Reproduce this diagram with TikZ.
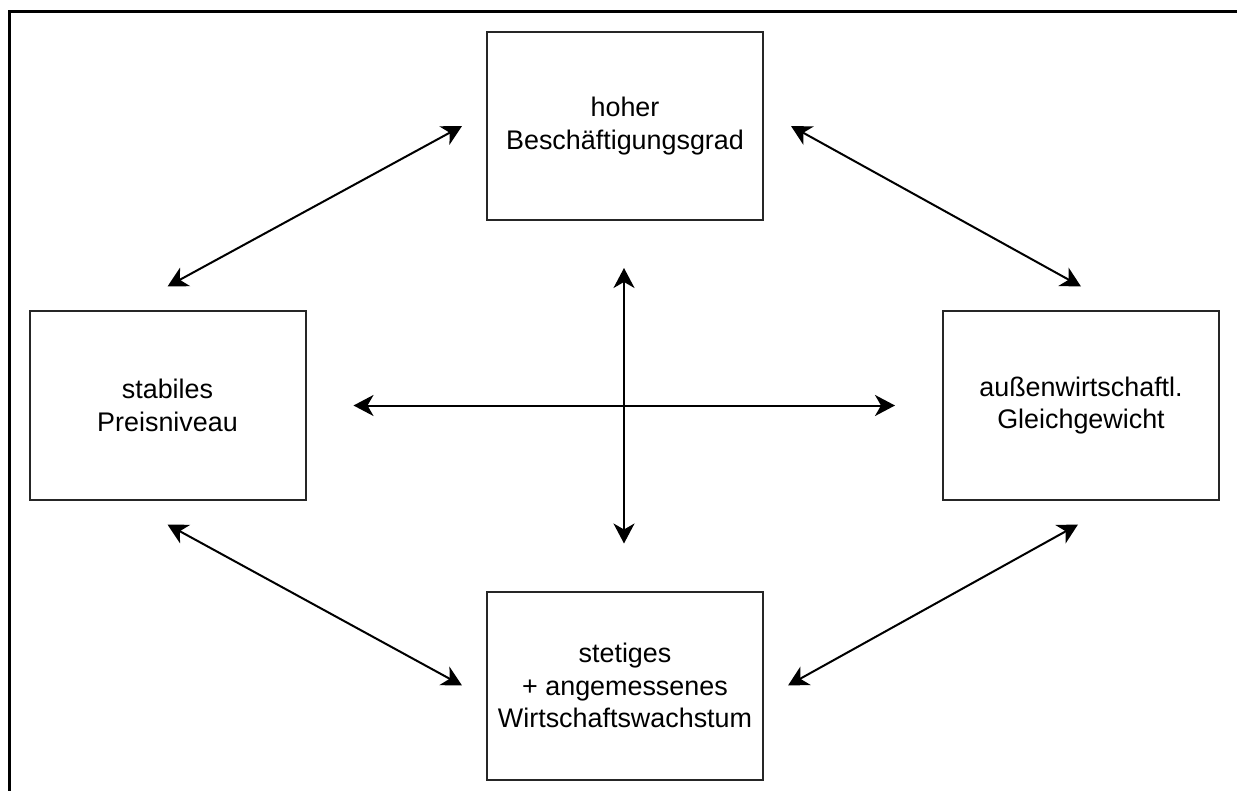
\documentclass[tikz,border=0pt]{standalone}
\usepackage{fontspec}
\setmainfont{Liberation Sans}
\usetikzlibrary{arrows.meta,calc}
\begin{document}
\begin{tikzpicture}[x=0.5pt,y=-0.5pt,
  goalbox/.style={draw=black!85, line width=1pt, rectangle, minimum width=138pt, minimum height=94pt,
    align=center, font=\fontsize{13.45}{16.2}\selectfont, inner sep=0pt},
  link/.style={line width=1pt, {Stealth[length=10pt,width=10.5pt,inset=3pt]}-{Stealth[length=10pt,width=10.5pt,inset=3pt]}},
  cross/.style={link, shorten <=23.5pt, shorten >=23.5pt}]
\useasboundingbox (0,0) rectangle (1237,791);
% frame (cropped: only top and left sides visible)
\draw[line width=1.5pt] (9.5,791) -- (9.5,11.5) -- (1237,11.5);
% boxes
\node[goalbox] (top) at (625,126) {hoher\\Beschäftigungsgrad};
\node[goalbox] (left) at (167.5,405.5) {stabiles\\Preisniveau};
\node[goalbox] (right) at (1081,405.5) {außenwirtschaftl.\\Gleichgewicht};
\node[goalbox] (bottom) at (625,685.5) {stetiges\\+ angemessenes\\Wirtschaftswachstum};
% free ends of diagonal arrows
\coordinate (tl1) at ($(top.west)+(-24,0)$);
\coordinate (tl2) at ($(left.north)+(0,-24)$);
\coordinate (tr1) at ($(top.east)+(27,0)$);
\coordinate (tr2) at ($(right.north)+(0,-24)$);
\coordinate (bl1) at ($(left.south)+(0,24)$);
\coordinate (bl2) at ($(bottom.west)+(-24,0)$);
\coordinate (br1) at ($(right.south)+(-3,24)$);
\coordinate (br2) at ($(bottom.east)+(24,0)$);
\draw[link] (tl2) -- (tl1);
\draw[link] (tr1) -- (tr2);
\draw[link] (bl1) -- (bl2);
\draw[link] (br2) -- (br1);
% central cross
\draw[cross] ([xshift=-0.5pt]top.south) -- ([xshift=-0.5pt]bottom.north);
\draw[cross] (left.east) -- (right.west);
\end{tikzpicture}
\end{document}
